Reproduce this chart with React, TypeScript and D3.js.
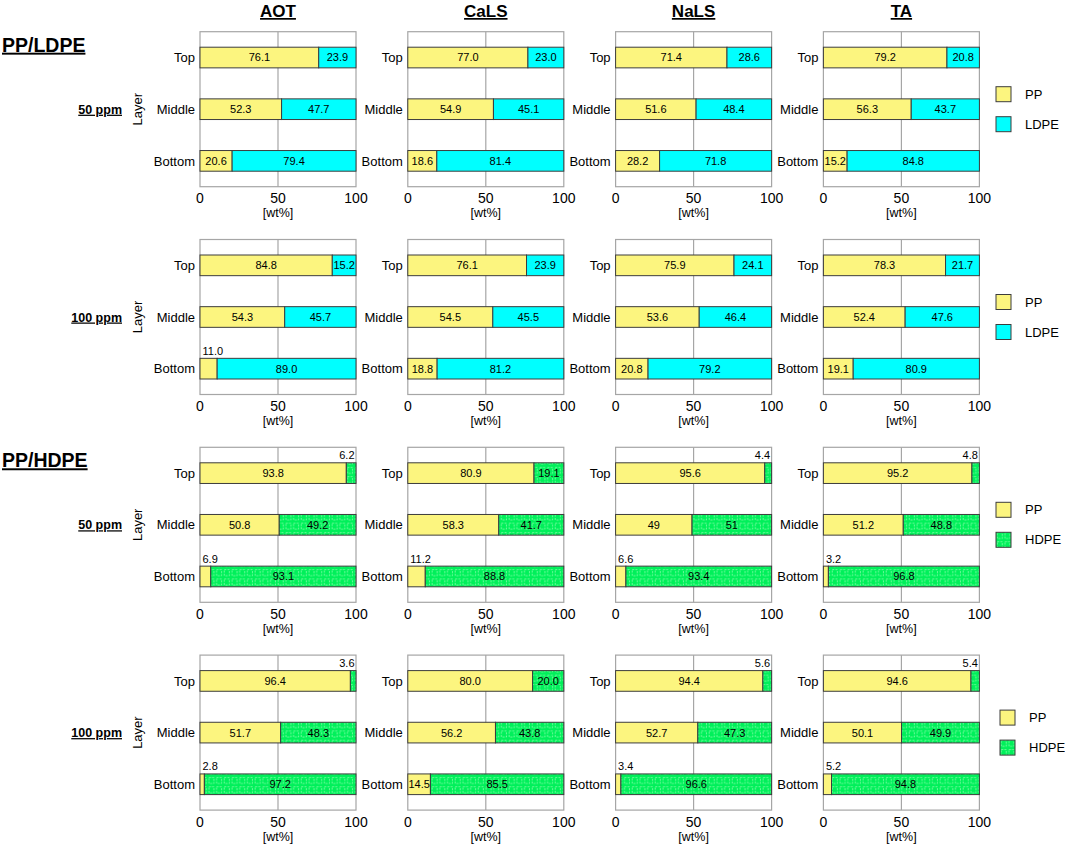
import React from 'react';
import * as d3 from 'd3';

// 表面活性剂（列）与层位（行）
const surfactants = ['AOT', 'CaLS', 'NaLS', 'TA'];
const layers = ['Top', 'Middle', 'Bottom'];
const xTicks = [0, 50, 100];

// 每个面板: [Top, Middle, Bottom]，按 AOT, CaLS, NaLS, TA 顺序
const ppLdpe50 = [['76.1', '52.3', '20.6'], ['77.0', '54.9', '18.6'], ['71.4', '51.6', '28.2'], ['79.2', '56.3', '15.2']];
const ldpe50 = [['23.9', '47.7', '79.4'], ['23.0', '45.1', '81.4'], ['28.6', '48.4', '71.8'], ['20.8', '43.7', '84.8']];
const ppLdpe100 = [['84.8', '54.3', '11.0'], ['76.1', '54.5', '18.8'], ['75.9', '53.6', '20.8'], ['78.3', '52.4', '19.1']];
const ldpe100 = [['15.2', '45.7', '89.0'], ['23.9', '45.5', '81.2'], ['24.1', '46.4', '79.2'], ['21.7', '47.6', '80.9']];
const ppHdpe50 = [['93.8', '50.8', '6.9'], ['80.9', '58.3', '11.2'], ['95.6', '49', '6.6'], ['95.2', '51.2', '3.2']];
const hdpe50 = [['6.2', '49.2', '93.1'], ['19.1', '41.7', '88.8'], ['4.4', '51', '93.4'], ['4.8', '48.8', '96.8']];
const ppHdpe100 = [['96.4', '51.7', '2.8'], ['80.0', '56.2', '14.5'], ['94.4', '52.7', '3.4'], ['94.6', '50.1', '5.2']];
const hdpe100 = [['3.6', '48.3', '97.2'], ['20.0', '43.8', '85.5'], ['5.6', '47.3', '96.6'], ['5.4', '49.9', '94.8']];

const rowLabels = ['50 ppm', '100 ppm', '50 ppm', '100 ppm'];
const peNames = ['LDPE', 'LDPE', 'HDPE', 'HDPE'];

// 版面
const FONT = '"Liberation Sans", Arial, Helvetica, sans-serif';
const PANEL_W = 156;
const PANEL_H = 155;
const COL0 = 200;
const COL_STEP = 207.8;
const ROW0 = 31.7;
const ROW_STEP = 207.8;
const PP_COLOR = '#fcf57f';
const LDPE_COLOR = '#00ffff';
const HDPE_COLOR = '#00f05a';
const SMALL = 12; // 小于此值的数字标在条形上方

const rows = [
  { pp: ppLdpe50, pe: ldpe50 },
  { pp: ppLdpe100, pe: ldpe100 },
  { pp: ppHdpe50, pe: hdpe50 },
  { pp: ppHdpe100, pe: hdpe100 },
];

interface PanelProps {
  pp: string[];
  pe: string[];
  peFill: string;
}

const Panel: React.FC<PanelProps> = ({ pp, pe, peFill }) => {
  const x = d3.scaleLinear().domain([0, 100]).range([0, PANEL_W]);
  const y = d3.scaleBand<string>().domain(layers).range([0, PANEL_H]).paddingInner(0.6).paddingOuter(0.3);
  const bw = y.bandwidth();

  return (
    <g>
      <rect x={0} y={0} width={PANEL_W} height={PANEL_H} fill="none" stroke="#a6a6a6" strokeWidth={1.2} />
      <line x1={x(50)} x2={x(50)} y1={0} y2={PANEL_H} stroke="#a6a6a6" strokeWidth={1.2} />

      {layers.map((layer, i) => {
        const a = +pp[i];
        const b = +pe[i];
        const y0 = y(layer) as number;
        const cy = y0 + bw / 2;
        return (
          <g key={layer}>
            <rect x={x(0)} y={y0} width={x(a) - x(0)} height={bw} fill={PP_COLOR} stroke="#3c3c3c" strokeWidth={1} />
            <rect x={x(a)} y={y0} width={x(100) - x(a)} height={bw} fill={peFill} stroke="#3c3c3c" strokeWidth={1} />
            {a >= SMALL ? (
              <text x={x(a / 2)} y={cy} dy="0.36em" textAnchor="middle" fontSize={11}>{pp[i]}</text>
            ) : (
              <text x={x(0) + 2.5} y={y0 - 3.5} textAnchor="start" fontSize={11}>{pp[i]}</text>
            )}
            {b >= SMALL ? (
              <text x={x(a + b / 2)} y={cy} dy="0.36em" textAnchor="middle" fontSize={11}>{pe[i]}</text>
            ) : (
              <text x={x(100) - 1.5} y={y0 - 3.5} textAnchor="end" fontSize={11}>{pe[i]}</text>
            )}
            <text x={-5} y={cy} dy="0.36em" textAnchor="end" fontSize={13}>{layer}</text>
          </g>
        );
      })}

      {xTicks.map(t => (
        <text key={t} x={x(t)} y={PANEL_H + 11.5} dy="0.36em" textAnchor="middle" fontSize={14}>{t}</text>
      ))}
      <text x={x(50)} y={PANEL_H + 26} dy="0.36em" textAnchor="middle" fontSize={12.5}>[wt%]</text>
    </g>
  );
};

const App: React.FC = () => {
  return (
    <svg width={1065} height={847} style={{ position: 'absolute', left: 0, top: 0, fontFamily: FONT }}>
      <defs>
        {/* HDPE 的浅色虚线方格纹理 */}
        <pattern id="hdpePattern" width={7.7} height={9.3} patternUnits="userSpaceOnUse">
          <rect width={7.7} height={9.3} fill={HDPE_COLOR} />
          <rect x={1.2} y={1.5} width={5} height={6} fill="none" stroke="#b4ffc4" strokeWidth={0.6} strokeDasharray="2 1.2" />
        </pattern>
      </defs>

      {/* 列标题 */}
      {surfactants.map((s, c) => (
        <text key={s} x={COL0 + c * COL_STEP + PANEL_W / 2} y={17} textAnchor="middle" fontSize={17} fontWeight="bold" textDecoration="underline">{s}</text>
      ))}

      {/* 组标题 */}
      <text x={2} y={ROW0 + 20} fontSize={19.5} fontWeight="bold" textDecoration="underline">PP/LDPE</text>
      <text x={2} y={ROW0 + 2 * ROW_STEP + 20} fontSize={19.5} fontWeight="bold" textDecoration="underline">PP/HDPE</text>

      {rows.map((row, r) => {
        const top = ROW0 + r * ROW_STEP;
        const mid = top + PANEL_H / 2;
        const hd = r >= 2;
        const peFill = hd ? 'url(#hdpePattern)' : LDPE_COLOR;
        const legX = r === 3 ? 1000 : 996;
        return (
          <g key={r}>
            <text x={122} y={mid} dy="0.36em" textAnchor="end" fontSize={12.5} fontWeight="bold" textDecoration="underline">{rowLabels[r]}</text>
            <text transform={`translate(142,${mid}) rotate(-90)`} textAnchor="middle" fontSize={13}>Layer</text>

            {surfactants.map((s, c) => (
              <g key={s} transform={`translate(${COL0 + c * COL_STEP},${top})`}>
                <Panel pp={row.pp[c]} pe={row.pe[c]} peFill={peFill} />
              </g>
            ))}

            {/* 图例 */}
            <g transform={`translate(${legX},${top})`}>
              <rect x={0} y={55} width={15} height={15} fill={PP_COLOR} stroke="#3c3c3c" strokeWidth={1} />
              <text x={29} y={62.5} dy="0.36em" fontSize={13}>PP</text>
              <rect x={0} y={85} width={15} height={15} fill={peFill} stroke="#3c3c3c" strokeWidth={1} />
              <text x={29} y={92.5} dy="0.36em" fontSize={13}>{peNames[r]}</text>
            </g>
          </g>
        );
      })}
    </svg>
  );
};

export default App;
